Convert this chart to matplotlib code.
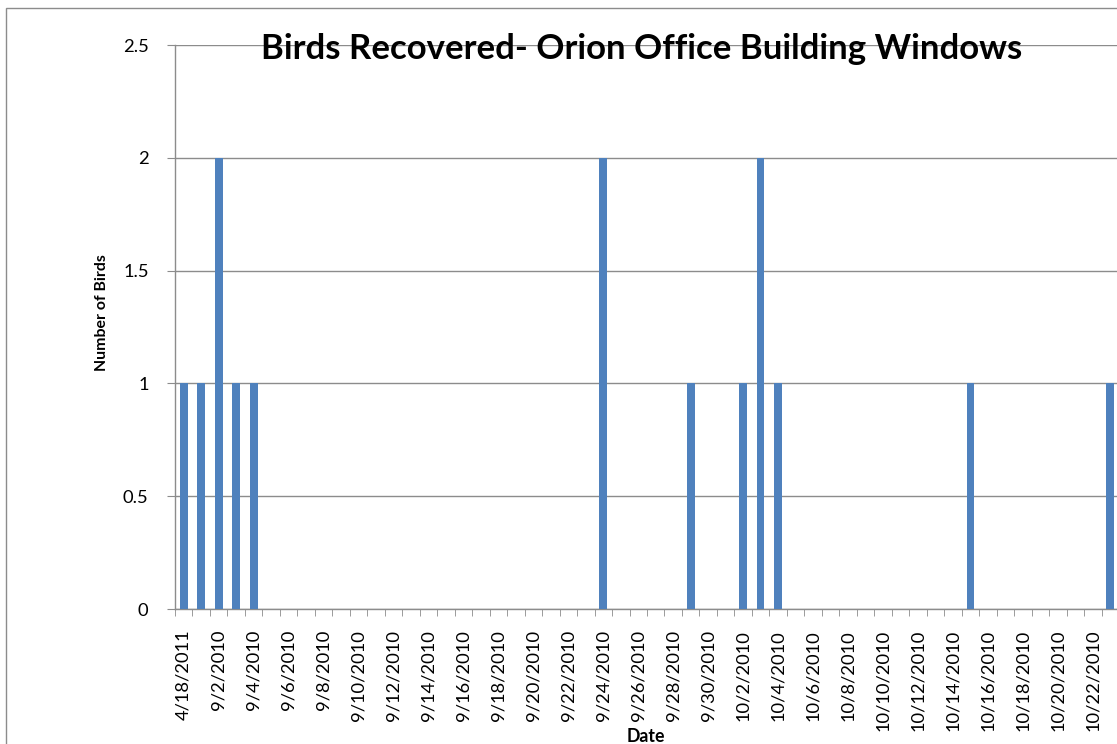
import matplotlib
matplotlib.use("Agg")
import matplotlib.pyplot as plt
from matplotlib.patches import Rectangle
import numpy as np

plt.rcParams['font.family'] = ['Lato', 'DejaVu Sans']

categories = [
    "4/18/2011",
    "9/1/2010", "9/2/2010", "9/3/2010", "9/4/2010", "9/5/2010", "9/6/2010",
    "9/7/2010", "9/8/2010", "9/9/2010", "9/10/2010", "9/11/2010", "9/12/2010",
    "9/13/2010", "9/14/2010", "9/15/2010", "9/16/2010", "9/17/2010", "9/18/2010",
    "9/19/2010", "9/20/2010", "9/21/2010", "9/22/2010", "9/23/2010", "9/24/2010",
    "9/25/2010", "9/26/2010", "9/27/2010", "9/28/2010", "9/29/2010", "9/30/2010",
    "10/1/2010", "10/2/2010", "10/3/2010", "10/4/2010", "10/5/2010", "10/6/2010",
    "10/7/2010", "10/8/2010", "10/9/2010", "10/10/2010", "10/11/2010", "10/12/2010",
    "10/13/2010", "10/14/2010", "10/15/2010", "10/16/2010", "10/17/2010", "10/18/2010",
    "10/19/2010", "10/20/2010", "10/21/2010", "10/22/2010", "10/23/2010",
]
birds = [
    1,
    1, 2, 1, 1, 0, 0,
    0, 0, 0, 0, 0, 0,
    0, 0, 0, 0, 0, 0,
    0, 0, 0, 0, 0, 2,
    0, 0, 0, 0, 1, 0,
    0, 1, 2, 1, 0, 0,
    0, 0, 0, 0, 0, 0,
    0, 0, 1, 0, 0, 0,
    0, 0, 0, 0, 1,
]
title = "Birds Recovered- Orion Office Building Windows"
y_label = "Number of Birds"
x_label = "Date"

W, H = 1117, 744
fig = plt.figure(figsize=(W / 100, H / 100), dpi=100)

# chart-area border
fig.patches.append(Rectangle((6 / W, -0.05), 1.2, 1 - 8 / H + 0.05,
                             transform=fig.transFigure, fill=False,
                             edgecolor='#8c8c8c', linewidth=1.0))

left, right, top, bottom = 175, 1119, 45, 609
ax = fig.add_axes([left / W, 1 - bottom / H, (right - left) / W, (bottom - top) / H])

x = np.arange(len(categories))
ax.bar(x, birds, width=0.44, color='#4F81BD', zorder=3)

ax.set_xlim(-0.5, len(categories) - 0.5)
ax.set_ylim(0, 2.5)
ax.set_yticks([0, 0.5, 1, 1.5, 2, 2.5])
ax.set_yticklabels(['0', '0.5', '1', '1.5', '2', '2.5'], fontsize=13.2)
ax.yaxis.grid(True, color='#8c8c8c', linewidth=1.0, zorder=0)
ax.set_axisbelow(True)

major = x[::2]
ax.set_xticks(major)
ax.set_xticklabels([categories[i] for i in major], rotation=90, fontsize=13.2)
ax.set_xticks(np.arange(-0.5, len(categories) + 0.5, 1), minor=True)
ax.tick_params(axis='x', which='major', length=0, pad=15)
ax.tick_params(axis='x', which='minor', length=5, color='#8c8c8c', direction='out')
ax.tick_params(axis='y', length=6, color='#8c8c8c', direction='out', pad=13)

for s in ['top', 'right']:
    ax.spines[s].set_visible(False)
for s in ['left', 'bottom']:
    ax.spines[s].set_color('#8c8c8c')
    ax.spines[s].set_linewidth(1.0)

fig.text(642 / W, 1 - 49 / H, title, ha='center', va='center',
         fontsize=25, fontweight='bold', zorder=10)
fig.text(102 / W, 1 - 313 / H, y_label, ha='center', va='center',
         rotation=90, fontsize=11.4, fontweight='bold')
fig.text(646 / W, 1 - 737 / H, x_label, ha='center', va='center',
         fontsize=12.8, fontweight='bold')

fig.savefig('out.png', dpi=100)
